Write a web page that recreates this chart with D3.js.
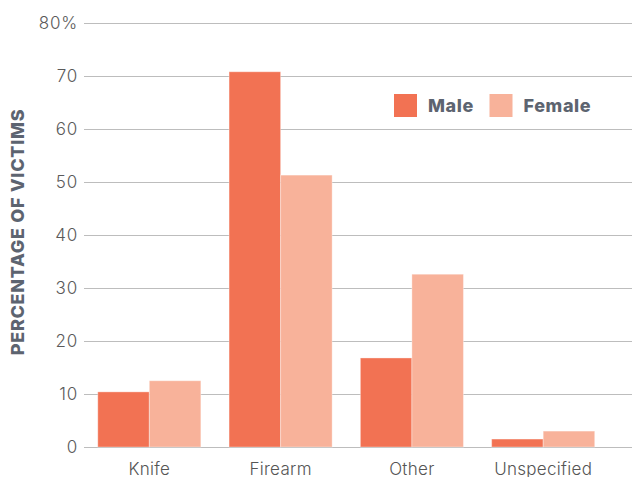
<!DOCTYPE html>
<html><head><meta charset="utf-8">
<script src="https://cdn.jsdelivr.net/npm/d3@7"></script>
<style>body{margin:0;background:#fff}svg{display:block}</style>
</head><body>
<script>
const categories = ["Knife", "Firearm", "Other", "Unspecified"];
const seriesNames = ["Male", "Female"];
const maleValues = [10.4, 70.8, 16.8, 1.5];
const femaleValues = [12.5, 51.3, 32.6, 3.0];
const yTicks = [0, 10, 20, 30, 40, 50, 60, 70, 80];
const colors = ["#F27253", "#F8B29A"];

const W = 632, H = 477;
const svg = d3.select("body").append("svg").attr("width", W).attr("height", H);
const font = "Inter, 'Noto Sans', sans-serif";

const y = d3.scaleLinear().domain([0, 80]).range([447, 23]);
const x0 = d3.scaleBand().domain(categories).range([84, 608.5]).paddingInner(0.215).paddingOuter(0.105);
const x1 = d3.scaleBand().domain(seriesNames).range([0, x0.bandwidth()]);

// gridlines
svg.append("g").selectAll("line").data(yTicks).join("line")
  .attr("x1", 84).attr("x2", W).attr("y1", d => y(d) + 0.5).attr("y2", d => y(d) + 0.5)
  .attr("stroke", "#bdbdbd").attr("stroke-width", 1);

// y tick labels
svg.append("g").selectAll("text").data(yTicks).join("text")
  .attr("x", 78).attr("y", d => y(d)).attr("dy", "0.35em")
  .attr("text-anchor", "end").attr("font-family", font).attr("font-size", 17)
  .attr("font-weight", 300).attr("letter-spacing", 0.8)
  .attr("fill", "#5a5a5a").text(d => d === 80 ? "80%" : d);

// bars
const data = categories.map((c, i) => ({cat: c, vals: [maleValues[i], femaleValues[i]]}));
const g = svg.append("g").selectAll("g").data(data).join("g")
  .attr("transform", d => `translate(${x0(d.cat)},0)`);
g.selectAll("rect").data(d => d.vals.map((v, j) => ({s: seriesNames[j], v, j}))).join("rect")
  .attr("x", d => x1(d.s)).attr("width", x1.bandwidth())
  .attr("y", d => y(d.v)).attr("height", d => y(0) - y(d.v))
  .attr("fill", d => colors[d.j])
  .attr("stroke", "rgba(255,255,255,0.35)").attr("stroke-width", 1);

// x labels
svg.append("g").selectAll("text").data(categories).join("text")
  .attr("x", d => x0(d) + x0.bandwidth() / 2).attr("y", 475)
  .attr("text-anchor", "middle").attr("font-family", font).attr("font-size", 17)
  .attr("font-weight", 300).attr("letter-spacing", 0.3)
  .attr("fill", "#555").text(d => d);

// y axis title
svg.append("text")
  .attr("transform", "translate(24,232) rotate(-90)")
  .attr("text-anchor", "middle").attr("font-family", font).attr("font-size", 18)
  .attr("font-weight", 800).attr("letter-spacing", 0.7).attr("fill", "#5d6470")
  .text("PERCENTAGE OF VICTIMS");

// legend
const legX = [394, 489.5];
const leg = svg.append("g").selectAll("g").data(seriesNames).join("g")
  .attr("transform", (d, i) => `translate(${legX[i]},94)`);
leg.append("rect").attr("width", 23).attr("height", 23).attr("fill", (d, i) => colors[i]);
leg.append("text").attr("x", 34).attr("y", 12).attr("dy", "0.35em")
  .attr("font-family", font).attr("font-size", 18).attr("font-weight", 800)
  .attr("letter-spacing", 0.6)
  .attr("fill", "#5d6470").text(d => d);
</script>
</body></html>
